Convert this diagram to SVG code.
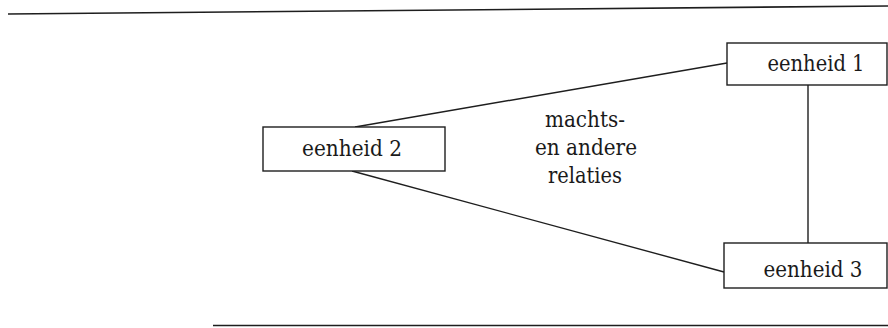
<svg xmlns="http://www.w3.org/2000/svg" width="888" height="328" viewBox="0 0 888 328">
  <style>
    .rule { stroke: #1e1e1e; stroke-width: 1.6; fill: none; }
    .edge { stroke: #1e1e1e; stroke-width: 1.4; fill: none; }
    .box { fill: #ffffff; stroke: #1e1e1e; stroke-width: 1.4; }
    text { font-family: "DejaVu Serif", "Liberation Serif", serif; font-size: 22px; fill: #1a1a1a; text-anchor: middle; }
  </style>
  <rect width="888" height="328" fill="#ffffff"/>

  <!-- page rules -->
  <line class="rule" x1="8" y1="14" x2="888" y2="6"/>
  <line class="rule" x1="213" y1="325.5" x2="888" y2="325.5"/>

  <!-- connectors -->
  <g id="connectors">
    <line class="edge" x1="355" y1="127" x2="727" y2="63"/>
    <line class="edge" x1="352" y1="171" x2="724" y2="272"/>
    <line class="edge" x1="808" y1="85" x2="808" y2="243"/>
  </g>

  <g id="eenheid1">
    <rect class="box" x="727" y="43" width="160" height="42"/>
    <text x="816" y="71" textLength="97" lengthAdjust="spacingAndGlyphs">eenheid 1</text>
  </g>

  <g id="eenheid2">
    <rect class="box" x="263" y="127" width="182" height="44"/>
    <text x="352" y="156" textLength="100" lengthAdjust="spacingAndGlyphs">eenheid 2</text>
  </g>

  <g id="eenheid3">
    <rect class="box" x="724" y="243" width="163" height="45"/>
    <text x="813" y="277" textLength="99" lengthAdjust="spacingAndGlyphs">eenheid 3</text>
  </g>

  <g id="relaties">
    <text x="585" y="127" textLength="80" lengthAdjust="spacingAndGlyphs">machts-</text>
    <text x="586" y="155" textLength="102" lengthAdjust="spacingAndGlyphs">en andere</text>
    <text x="585" y="183" textLength="74" lengthAdjust="spacingAndGlyphs">relaties</text>
  </g>
</svg>
